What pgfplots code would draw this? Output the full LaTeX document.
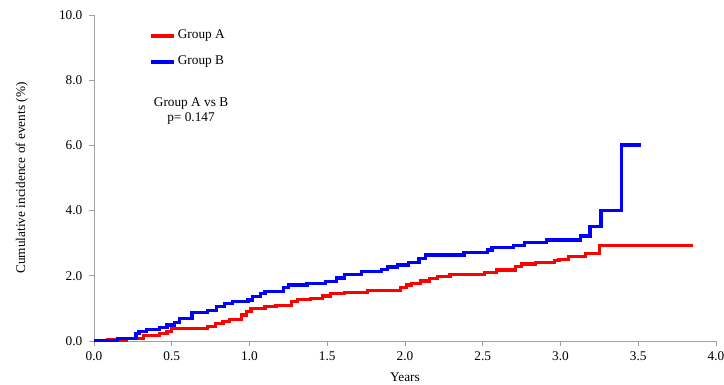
\documentclass[border=0pt]{standalone}
\usepackage{fontspec}
\setmainfont{Liberation Serif}
\usepackage{pgfplots}
\pgfplotsset{compat=1.18}
\definecolor{axgray}{RGB}{160,160,160}
\begin{document}
\fontsize{13.3}{16}\selectfont
\begin{tikzpicture}[x=1pt,y=1pt]
\useasboundingbox (-94,-43) rectangle (630,341);
\begin{axis}[at={(0,0)}, anchor=south west, scale only axis,
  width=622pt, height=326pt,
  xmin=0, xmax=4, ymin=0, ymax=10,
  axis lines=left,
  axis line style={draw=axgray, line width=0.8pt, -},
  xtick={0,0.5,1,1.5,2,2.5,3,3.5,4},
  ytick={0,2,4,6,8,10},
  tick style={draw=axgray, line width=0.8pt},
  tick align=outside, major tick length=5pt,
  /pgf/number format/assume math mode=true,
  /pgf/number format/fixed, /pgf/number format/zerofill, /pgf/number format/precision=1,
  ticklabel style={font=\fontsize{13.3}{16}\selectfont},
  xticklabel style={yshift=-1pt},
  yticklabel style={xshift=-2pt},
  xlabel={Years}, ylabel={Cumulative incidence of events (\%)},
  xlabel style={at={(axis description cs:0.5,-0.1104)}, anchor=center, font=\fontsize{13.3}{16}\selectfont},
  ylabel style={at={(axis description cs:-0.1158,0.5)}, anchor=center, font=\fontsize{13.3}{16}\selectfont},
  legend style={draw=none, fill=none, at={(axis cs:0.354,8.96)}, anchor=west,
    inner sep=0pt, row sep=14pt, column sep=2pt,
    nodes={inner sep=0pt, text height=9pt, text depth=3pt, font=\fontsize{13.3}{16}\selectfont}},
  legend image code/.code={\draw[#1, line width=3.6pt] (0pt,0pt) -- (23pt,0pt);},
  legend cell align=left,
]
\addplot[const plot mark left, red, line width=3.2pt, line join=miter] coordinates {
(0,0) (0.09,0.03) (0.21,0.08) (0.32,0.18) (0.42,0.24) (0.47,0.29) (0.50,0.39)
(0.73,0.44) (0.78,0.54) (0.83,0.59) (0.87,0.67) (0.95,0.80) (0.98,0.90) (1.01,1.00)
(1.10,1.05) (1.17,1.10) (1.27,1.21) (1.31,1.28) (1.39,1.31) (1.47,1.38) (1.52,1.45)
(1.61,1.49) (1.76,1.56) (1.97,1.64) (2.01,1.72) (2.04,1.77) (2.10,1.84) (2.16,1.92)
(2.21,1.97) (2.29,2.04) (2.51,2.10) (2.59,2.18) (2.71,2.28) (2.75,2.36) (2.84,2.40)
(2.96,2.46) (2.99,2.51) (3.05,2.60) (3.16,2.69) (3.25,2.94) (3.85,2.94)
};
\addlegendentry{Group A}
\addplot[const plot mark left, blue, line width=3.2pt, line join=miter] coordinates {
(0,0) (0.15,0.08) (0.27,0.24) (0.29,0.29) (0.34,0.36) (0.42,0.42) (0.47,0.49)
(0.52,0.56) (0.55,0.70) (0.63,0.88) (0.73,0.93) (0.79,1.07) (0.84,1.16) (0.89,1.21)
(0.99,1.26) (1.02,1.36) (1.07,1.46) (1.10,1.51) (1.22,1.65) (1.25,1.72) (1.37,1.77)
(1.49,1.82) (1.56,1.93) (1.61,2.05) (1.72,2.13) (1.85,2.20) (1.89,2.27) (1.95,2.33)
(2.02,2.41) (2.09,2.52) (2.13,2.64) (2.38,2.71) (2.53,2.79) (2.56,2.86) (2.70,2.94)
(2.77,3.02) (2.91,3.10) (3.13,3.22) (3.19,3.51) (3.26,4.00) (3.39,6.01) (3.52,6.01)
};
\addlegendentry{Group B}
\node[align=center, font=\fontsize{13.3}{15.5}\selectfont] at (axis cs:0.624,7.06) {Group A vs B\\p= 0.147};
\end{axis}
\end{tikzpicture}
\end{document}
